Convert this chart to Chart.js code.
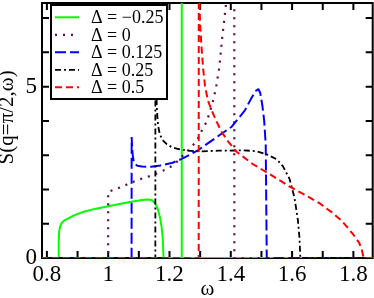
<!DOCTYPE html>
<html>
<head>
<meta charset="utf-8">
<script src="https://cdn.jsdelivr.net/npm/chart.js@4.4.1/dist/chart.umd.min.js"></script>
<style>
  html, body { margin: 0; padding: 0; background: #fff; }
  #wrap { width: 374px; height: 298px; }
</style>
</head>
<body>
<div id="wrap"><canvas id="chart"></canvas></div>
<script>
// legend labels
const seriesLabels = ['Δ = −0.25', 'Δ = 0', 'Δ = 0.125', 'Δ = 0.25', 'Δ = 0.5'];

// Δ = -0.25
const omegaA = [0.78, 0.837, 0.8385, 0.840, 0.843, 0.848, 0.856, 0.868, 0.89, 0.92, 0.96, 1.0, 1.04, 1.08, 1.11, 1.128, 1.142, 1.153, 1.162, 1.169, 1.174, 1.178, 1.1805, 1.2395, 1.2398, 1.2401, 1.87];
const sA     = [0, 0, 0.45, 0.78, 0.92, 1.02, 1.09, 1.15, 1.25, 1.35, 1.44, 1.51, 1.58, 1.65, 1.69, 1.71, 1.69, 1.60, 1.42, 1.18, 0.92, 0.58, 0, 0, 7.6, 0, 0];

// Δ = 0
const omegaB = [0.78, 0.9998, 1.0, 1.04, 1.07, 1.10, 1.14, 1.185, 1.215, 1.245, 1.264, 1.281, 1.295, 1.307, 1.321, 1.333, 1.343, 1.353, 1.362, 1.367, 1.372, 1.378, 1.384, 1.39, 1.4113, 1.4115, 1.87];
const sB     = [0, 0, 1.93, 2.06, 2.18, 2.29, 2.40, 2.57, 2.72, 3.0, 3.17, 3.34, 3.52, 3.75, 3.97, 4.3, 4.61, 5.04, 5.53, 5.97, 6.43, 6.89, 7.38, 8.0, 9.5, 0, 0];

// Δ = 0.125
const omegaC = [0.78, 1.0763, 1.0765, 1.078, 1.080, 1.083, 1.088, 1.095, 1.11, 1.14, 1.17, 1.21, 1.24, 1.294, 1.348, 1.403, 1.446, 1.467, 1.480, 1.4898, 1.496, 1.503, 1.509, 1.514, 1.5173, 1.87];
const sC     = [0, 0, 3.53, 3.25, 3.0, 2.84, 2.74, 2.69, 2.67, 2.66, 2.70, 2.78, 2.89, 3.15, 3.49, 3.83, 4.31, 4.66, 4.86, 4.93, 4.82, 4.45, 4.0, 3.3, 0, 0];

// Δ = 0.25
const omegaD = [0.78, 1.1538, 1.154, 1.156, 1.159, 1.163, 1.169, 1.18, 1.191, 1.21, 1.229, 1.26, 1.30, 1.36, 1.44, 1.48, 1.516, 1.55, 1.57, 1.592, 1.608, 1.619, 1.624, 1.627, 1.87];
const sD     = [0, 0, 8, 5.2, 4.3, 3.85, 3.59, 3.42, 3.32, 3.22, 3.18, 3.13, 3.11, 3.13, 3.14, 3.12, 3.03, 2.88, 2.68, 2.3, 1.75, 1.1, 0.6, 0, 0];

// Δ = 0.5
const omegaE = [0.78, 1.2953, 1.2955, 1.298, 1.2995, 1.302, 1.305, 1.31, 1.316, 1.325, 1.338, 1.354, 1.37, 1.392, 1.419, 1.441, 1.47, 1.517, 1.55, 1.592, 1.64, 1.689, 1.73, 1.76, 1.777, 1.80, 1.819, 1.828, 1.8333, 1.87];
const sE     = [0, 0, 8, 7.44, 6.9, 6.5, 6.1, 5.5, 5.02, 4.6, 4.3, 3.97, 3.68, 3.39, 3.1, 2.95, 2.75, 2.5, 2.32, 2.08, 1.85, 1.6, 1.33, 1.1, 0.93, 0.68, 0.44, 0.22, 0, 0];

// axes
const xRange = [0.784, 1.863];
const yRange = [0, 7.44];
const xTicks = [0.8, 0.9, 1, 1.1, 1.2, 1.3, 1.4, 1.5, 1.6, 1.7, 1.8];
const xTickLabels = ['0.8', '1', '1.2', '1.4', '1.6', '1.8'];
const yTicks = [0, 1, 2, 3, 4, 5, 6, 7];
const yTickLabels = ['0', '5'];

const serif = '"Liberation Serif", "Times New Roman", Times, "DejaVu Serif", serif';
Chart.defaults.font.family = serif;
Chart.defaults.color = '#000';

const pts = (xs, ys) => xs.map((x, i) => ({ x: x, y: ys[i] }));

// frame with inward ticks on all four sides
const framePlugin = {
    id: 'frame',
    beforeDatasetsDraw(chart) {
        const { ctx, chartArea: a, scales: { x, y } } = chart;
        ctx.save();
        ctx.strokeStyle = '#000';
        ctx.lineWidth = 2;
        ctx.strokeRect(a.left, a.top, a.right - a.left, a.bottom - a.top);
        ctx.beginPath();
        x.ticks.forEach(t => {
            const px = x.getPixelForValue(t.value);
            ctx.moveTo(px, a.bottom); ctx.lineTo(px, a.bottom - 7);
            ctx.moveTo(px, a.top); ctx.lineTo(px, a.top + 7);
        });
        y.ticks.forEach(t => {
            const py = y.getPixelForValue(t.value);
            ctx.moveTo(a.left, py); ctx.lineTo(a.left + 7, py);
            ctx.moveTo(a.right, py); ctx.lineTo(a.right - 7, py);
        });
        ctx.stroke();
        ctx.restore();
    }
};

// boxed legend inside the plot
const legendPlugin = {
    id: 'boxLegend',
    afterDatasetsDraw(chart) {
        const ctx = chart.ctx;
        const bx = 51, by = 5, bw = 116, bh = 94;
        ctx.save();
        ctx.fillStyle = '#fff';
        ctx.fillRect(bx, by, bw, bh);
        ctx.strokeStyle = '#000';
        ctx.lineWidth = 2;
        ctx.strokeRect(bx, by, bw, bh);
        ctx.font = '18px ' + serif;
        ctx.textBaseline = 'middle';
        chart.data.datasets.forEach((ds, i) => {
            const yy = 17.3 + i * 17.5;
            ctx.strokeStyle = ds.borderColor;
            ctx.lineWidth = ds.borderWidth;
            ctx.lineCap = 'butt';
            ctx.setLineDash(ds.borderDash || []);
            ctx.beginPath();
            ctx.moveTo(55, yy);
            ctx.lineTo(79, yy);
            ctx.stroke();
            ctx.setLineDash([]);
            ctx.fillStyle = '#000';
            ctx.fillText(ds.label, 91, yy + 1);
        });
        ctx.restore();
    }
};

const base = { pointRadius: 0, tension: 0, fill: false, clip: 0, borderCapStyle: 'butt', borderJoinStyle: 'bevel' };

new Chart(document.getElementById('chart').getContext('2d'), {
    type: 'line',
    data: {
        datasets: [
            { ...base, label: seriesLabels[0], data: pts(omegaA, sA), borderColor: 'rgb(0,255,0)', borderWidth: 2, order: 4 },
            { ...base, label: seriesLabels[1], data: pts(omegaB, sB), borderColor: 'rgb(103,7,72)', borderWidth: 2.2, borderDash: [2, 6], order: 3 },
            { ...base, label: seriesLabels[2], data: pts(omegaC, sC), borderColor: 'rgb(0,0,255)', borderWidth: 2, borderDash: [11, 4], order: 2 },
            { ...base, label: seriesLabels[3], data: pts(omegaD, sD), borderColor: '#000', borderWidth: 1.8, borderDash: [6, 3, 2, 3], order: 1 },
            { ...base, label: seriesLabels[4], data: pts(omegaE, sE), borderColor: 'rgb(255,0,0)', borderWidth: 2, borderDash: [7, 4], order: 0 }
        ]
    },
    options: {
        responsive: true,
        maintainAspectRatio: false,
        animation: false,
        devicePixelRatio: 1,
        layout: { padding: { top: 3, right: 1.3, left: 0, bottom: 0 } },
        plugins: {
            legend: { display: false },
            tooltip: { enabled: false }
        },
        scales: {
            x: {
                type: 'linear',
                min: xRange[0],
                max: xRange[1],
                grid: { display: false, drawTicks: false },
                border: { display: false },
                afterBuildTicks: s => { s.ticks = xTicks.map(v => ({ value: v })); },
                afterFit: s => { s.height = 40; s.paddingLeft = 0; s.paddingRight = 0; },
                ticks: {
                    autoSkip: false,
                    maxRotation: 0,
                    padding: 3,
                    font: { size: 23 },
                    callback: v => xTickLabels.includes(String(v)) ? String(v) : ''
                },
                title: {
                    display: true,
                    text: 'ω',
                    padding: 0,
                    font: { size: 21, lineHeight: 0.8 }
                }
            },
            y: {
                min: yRange[0],
                max: yRange[1],
                grid: { display: false, drawTicks: false },
                border: { display: false },
                afterBuildTicks: s => { s.ticks = yTicks.map(v => ({ value: v })); },
                afterFit: s => { s.width = 42; s.paddingTop = 0; s.paddingBottom = 0; },
                ticks: {
                    autoSkip: false,
                    padding: 5,
                    font: { size: 23 },
                    callback: v => yTickLabels.includes(String(v)) ? String(v) : ''
                },
                title: {
                    display: true,
                    text: '     S(q=π/2,ω)',
                    padding: 0,
                    font: { size: 21, lineHeight: 0.7 }
                }
            }
        }
    },
    plugins: [framePlugin, legendPlugin]
});
</script>
</body>
</html>
